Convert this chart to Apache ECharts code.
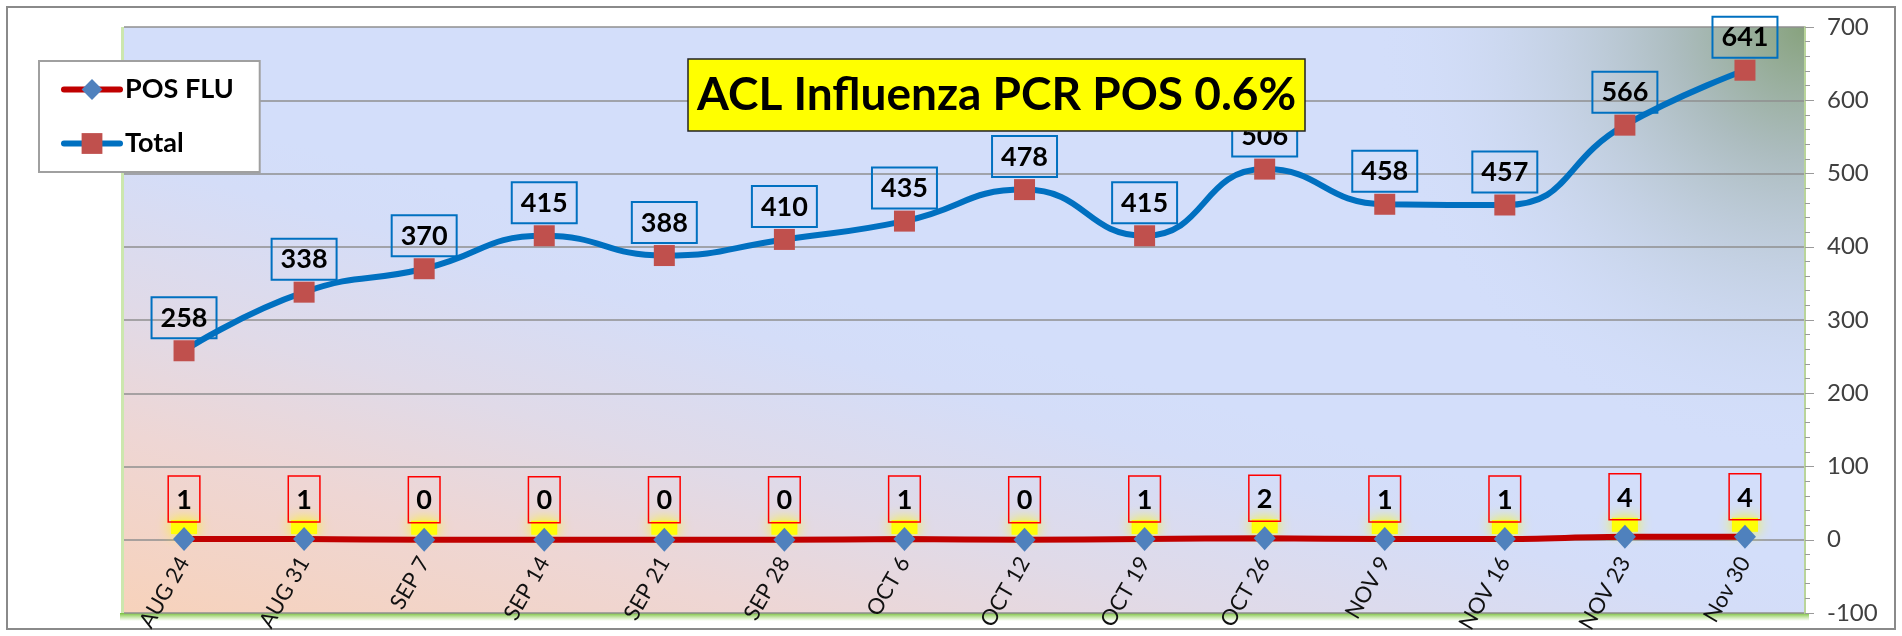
<!DOCTYPE html>
<html>
<head>
<meta charset="utf-8">
<title>ACL Influenza PCR POS</title>
<script src="https://cdn.jsdelivr.net/npm/echarts@6/dist/echarts.min.js"></script>
<style>
  html, body { margin: 0; padding: 0; background: #fff; }
  #chart { width: 1902px; height: 636px; }
</style>
</head>
<body>
<div id="chart"></div>
<script>
// 每周日期（横轴）
const weeks = ['AUG 24', 'AUG 31', 'SEP 7', 'SEP 14', 'SEP 21', 'SEP 28', 'OCT 6',
  'OCT 12', 'OCT 19', 'OCT 26', 'NOV 9', 'NOV 16', 'NOV 23', 'Nov 30']
// 阳性数
const posFlu = [1, 1, 0, 0, 0, 0, 1, 0, 1, 2, 1, 1, 4, 4]
// 检测总数
const totalTests = [258, 338, 370, 415, 388, 410, 435, 478, 415, 506, 458, 457, 566, 641]
// 右侧纵轴刻度
const yMin = -100
const yMax = 700
const yStep = 100

const titleText = 'ACL Influenza PCR POS 0.6%'
const font = "Lato, 'Liberation Sans', sans-serif"

// 绘图区位置（像素）
const plot = { left: 124, top: 27, right: 1805, bottom: 613 }
const plotW = plot.right - plot.left
const plotH = plot.bottom - plot.top
// 0 刻度线所在的像素位置，横轴标签挂在这里
const zeroY = plot.bottom - plotH * (0 - yMin) / (yMax - yMin)

const chart = echarts.init(document.getElementById('chart'))

let option = {
  animation: false,
  backgroundColor: '#fff',
  title: {
    text: titleText,
    left: 688,
    top: 59,
    z: 10,
    backgroundColor: '#ffff00',
    borderColor: '#222',
    borderWidth: 1.5,
    padding: [8, 9, 8, 9],
    textStyle: {
      fontFamily: font,
      fontWeight: 'bold',
      fontSize: 46,
      lineHeight: 56,
      color: '#000'
    }
  },
  legend: {
    data: ['POS FLU', 'Total'],
    orient: 'vertical',
    left: 39,
    top: 61,
    backgroundColor: '#fff',
    borderColor: '#a0a0a0',
    borderWidth: 2,
    padding: [15, 26, 15, 22],
    itemWidth: 56,
    itemHeight: 26,
    itemGap: 27,
    lineStyle: { width: 6, cap: 'round' },
    textStyle: {
      fontFamily: font,
      fontWeight: 'bold',
      fontSize: 27,
      color: '#000'
    }
  },
  grid: [
    {
      left: plot.left,
      top: plot.top,
      right: 1902 - plot.right,
      bottom: 636 - plot.bottom,
      outerBoundsMode: 'none',
      show: false
    },
    {
      // 只用来放横轴标签（底边对齐 0 刻度线）
      left: plot.left,
      top: plot.top,
      right: 1902 - plot.right,
      bottom: 636 - zeroY,
      outerBoundsMode: 'none',
      show: false
    }
  ],
  // 背景渐变、外框
  graphic: [
    {
      type: 'rect',
      z: -10,
      silent: true,
      shape: { x: 7, y: 7, width: 1888, height: 622 },
      style: { fill: '#fff', stroke: '#8a8a8a', lineWidth: 2 }
    },
    {
      type: 'rect',
      z: -9,
      silent: true,
      shape: { x: plot.left, y: plot.top, width: plotW, height: plotH },
      style: {
        fill: new echarts.graphic.LinearGradient(plot.left, plot.bottom, 259, 133, [
          { offset: 0, color: '#f7d2bb' },
          { offset: 0.35, color: '#eed6d4' },
          { offset: 0.6, color: '#e0dae8' },
          { offset: 0.88, color: '#d4ddf8' },
          { offset: 1, color: '#d3defa' }
        ], true)
      }
    },
    {
      type: 'rect',
      z: -8,
      silent: true,
      shape: { x: plot.left, y: plot.top, width: plotW, height: plotH },
      style: {
        fill: new echarts.graphic.RadialGradient(plot.right, plot.top, 430, [
          { offset: 0, color: 'rgba(135,162,125,1)' },
          { offset: 0.3, color: 'rgba(165,182,180,0.85)' },
          { offset: 1, color: 'rgba(211,222,250,0)' }
        ], true)
      }
    },
    {
      type: 'rect',
      z: -7,
      silent: true,
      shape: { x: plot.left - 4, y: plot.bottom, width: plotW + 8, height: 8 },
      style: {
        fill: new echarts.graphic.LinearGradient(0, 0, 0, 1, [
          { offset: 0, color: 'rgba(120,192,60,1)' },
          { offset: 1, color: 'rgba(150,210,90,0)' }
        ])
      }
    },
    {
      type: 'rect',
      z: -7,
      silent: true,
      shape: { x: plot.left - 3, y: plot.top, width: 3, height: plotH },
      style: { fill: 'rgba(170,215,120,0.6)' }
    }
  ],
  xAxis: [
    {
      type: 'category',
      gridIndex: 0,
      data: weeks,
      boundaryGap: true,
      axisLine: { show: false },
      axisTick: { show: false },
      axisLabel: { show: false },
      splitLine: { show: false }
    },
    {
      type: 'category',
      gridIndex: 1,
      data: weeks,
      boundaryGap: true,
      axisLine: { show: false },
      axisTick: { show: false },
      splitLine: { show: false },
      axisLabel: {
        interval: 0,
        rotate: 60,
        margin: 19,
        fontFamily: font,
        fontSize: 22,
        color: '#111'
      }
    }
  ],
  yAxis: [
    {
      type: 'value',
      gridIndex: 0,
      position: 'right',
      min: yMin,
      max: yMax,
      interval: yStep,
      axisLine: { show: true, lineStyle: { color: '#b9d49a', width: 2 } },
      axisTick: { show: true, length: 9, lineStyle: { color: '#9a9a9a' } },
      minorTick: { show: true, splitNumber: 5, length: 5, lineStyle: { color: '#9a9a9a' } },
      axisLabel: {
        margin: 22,
        fontFamily: font,
        fontSize: 24,
        color: '#404040'
      },
      splitLine: { show: true, lineStyle: { color: '#8f8f8f', width: 1.5 } }
    },
    {
      type: 'value',
      gridIndex: 1,
      show: false
    }
  ],
  series: [
    {
      // 阳性数标签下方的黄色光晕
      name: 'glow',
      type: 'line',
      data: posFlu,
      silent: true,
      z: 1,
      symbol: 'rect',
      symbolSize: [26, 14],
      symbolOffset: [0, -12],
      lineStyle: { width: 0, opacity: 0 },
      itemStyle: {
        color: 'rgba(255,255,0,0.95)',
        shadowColor: 'rgba(255,255,0,1)',
        shadowBlur: 14
      },
      label: { show: false }
    },
    {
      name: 'POS FLU',
      type: 'line',
      data: posFlu,
      smooth: 0.3,
      symbol: 'diamond',
      symbolSize: [22, 24],
      itemStyle: { color: '#4f81bd' },
      lineStyle: { color: '#c00000', width: 6 },
      label: {
        show: true,
        position: 'top',
        distance: 5,
        fontFamily: font,
        fontWeight: 'bold',
        fontSize: 27,
        lineHeight: 28,
        color: '#000',
        borderColor: '#ff0000',
        borderWidth: 1.5,
        padding: [10, 8, 8, 8]
      }
    },
    {
      name: 'Total',
      type: 'line',
      data: totalTests,
      smooth: 0.5,
      symbol: 'rect',
      symbolSize: 21,
      itemStyle: { color: '#c0504d' },
      lineStyle: { color: '#0070c0', width: 6 },
      label: {
        show: true,
        position: 'top',
        distance: 2,
        fontFamily: font,
        fontWeight: 'bold',
        fontSize: 27,
        lineHeight: 30,
        color: '#000',
        borderColor: '#0070c0',
        borderWidth: 2,
        padding: [6, 9, 5, 9]
      }
    }
  ]
}

chart.setOption(option)
</script>
</body>
</html>
